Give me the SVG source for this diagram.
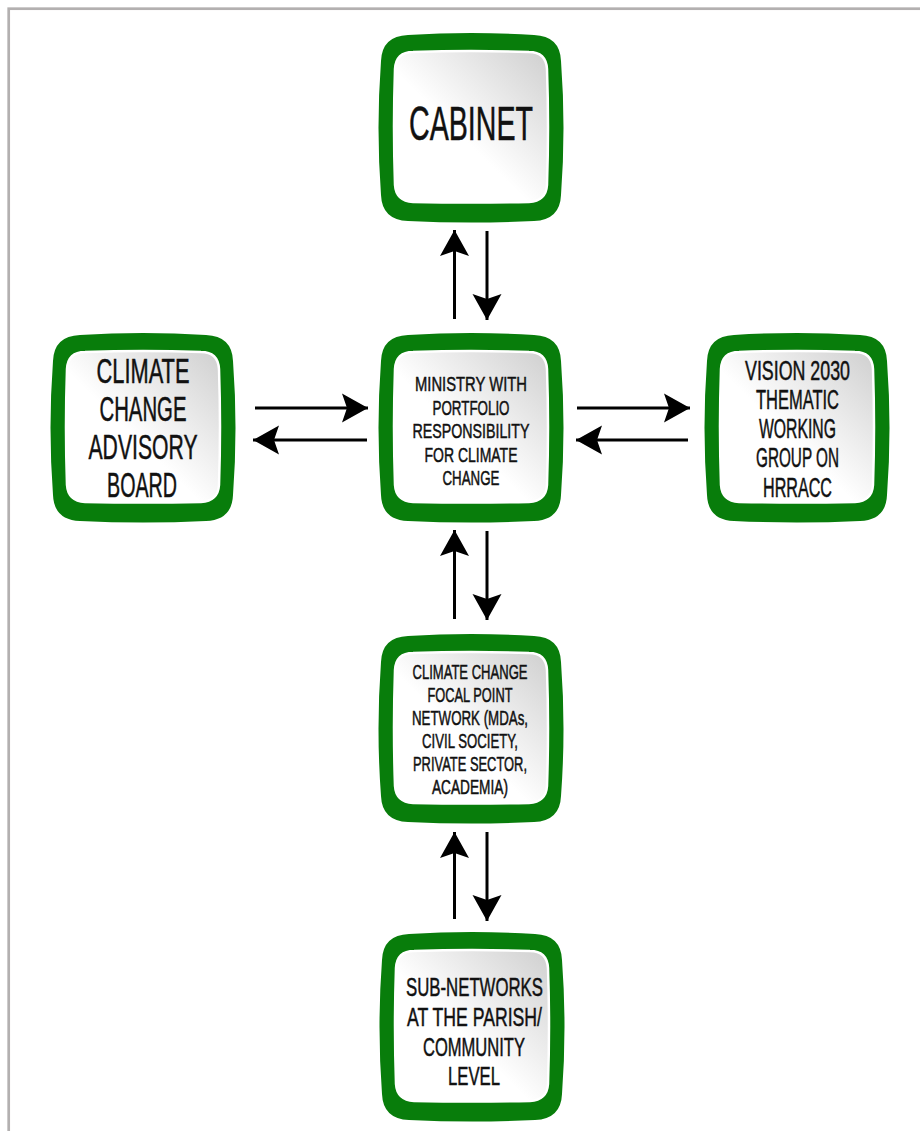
<svg xmlns="http://www.w3.org/2000/svg" xmlns:xlink="http://www.w3.org/1999/xlink" width="920" height="1131" viewBox="0 0 920 1131">
<style>
.t{font-family:"Liberation Sans Narrow","Liberation Sans",Arial,sans-serif;fill:#111;stroke:#111;stroke-width:0.5;text-anchor:middle;}
.c{stroke:#000;stroke-width:3;fill:none;marker-end:url(#ah);}
</style>
<defs>
<linearGradient id="g" x1="1" y1="0" x2="0.25" y2="0.75">
<stop offset="0" stop-color="#cfcfcf"/>
<stop offset="0.75" stop-color="#ffffff"/>
</linearGradient>
<path id="outer" d="M -63,-93 Q 0,-97 63,-93 Q 89,-92 90,-67 Q 95,0 90,67 Q 89,92 63,93 Q 0,96 -63,93 Q -89,92 -90,67 Q -95,0 -90,-67 Q -89,-92 -63,-93 Z" fill="#087d0b"/>
<path id="inner" d="M -58,-75 Q 0,-77 58,-75 Q 75,-75 76,-58 Q 78,0 76,58 Q 75,74 58,75 Q 0,76 -58,75 Q -75,74 -76,58 Q -78,0 -76,-58 Q -75,-75 -58,-75 Z" fill="url(#g)" stroke="#ffffff" stroke-width="2.5"/>
<marker id="ah" markerUnits="userSpaceOnUse" viewBox="-28 -16 30 32" markerWidth="30" markerHeight="32" refX="0" refY="0" orient="auto">
<path d="M0,0 L-26,-14.5 L-21,0 L-26,14.5 Z" fill="#000"/>
</marker>
</defs>
<rect x="8.7" y="8.7" width="1000" height="1200" fill="#fff" stroke="#b3b0b0" stroke-width="2.7"/>

<g id="connectors">
<line class="c" x1="454.5" y1="319" x2="454.5" y2="230"/>
<line class="c" x1="487" y1="231" x2="487" y2="320"/>
<line class="c" x1="255" y1="408" x2="368" y2="408"/>
<line class="c" x1="367" y1="440" x2="253" y2="440"/>
<line class="c" x1="577" y1="408" x2="690" y2="408"/>
<line class="c" x1="688" y1="440" x2="576" y2="440"/>
<line class="c" x1="454.5" y1="619" x2="454.5" y2="530"/>
<line class="c" x1="487" y1="531" x2="487" y2="620"/>
<line class="c" x1="454.5" y1="919" x2="454.5" y2="832"/>
<line class="c" x1="487" y1="832" x2="487" y2="921"/>
</g>

<g id="cabinet">
<use xlink:href="#outer" x="471" y="128"/>
<use xlink:href="#inner" x="471" y="127"/>
<text class="t" font-size="49" x="471" y="140" textLength="124" lengthAdjust="spacingAndGlyphs" stroke-width="0.9">CABINET</text>
</g>

<g id="ministry">
<use xlink:href="#outer" x="471" y="428"/>
<use xlink:href="#inner" x="471" y="427"/>
<text class="t" font-size="21" x="471" y="391" textLength="112" lengthAdjust="spacingAndGlyphs">MINISTRY WITH</text>
<text class="t" font-size="21" x="471" y="414.5" textLength="77" lengthAdjust="spacingAndGlyphs">PORTFOLIO</text>
<text class="t" font-size="21" x="471" y="438" textLength="117" lengthAdjust="spacingAndGlyphs">RESPONSIBILITY</text>
<text class="t" font-size="21" x="471" y="461.5" textLength="93" lengthAdjust="spacingAndGlyphs">FOR CLIMATE</text>
<text class="t" font-size="21" x="471" y="485" textLength="57" lengthAdjust="spacingAndGlyphs">CHANGE</text>
</g>

<g id="advisory-board">
<use xlink:href="#outer" x="143" y="428"/>
<use xlink:href="#inner" x="143" y="427"/>
<text class="t" font-size="35" x="143" y="383" textLength="93" lengthAdjust="spacingAndGlyphs" stroke-width="0.7">CLIMATE</text>
<text class="t" font-size="35" x="143" y="421" textLength="87" lengthAdjust="spacingAndGlyphs" stroke-width="0.7">CHANGE</text>
<text class="t" font-size="35" x="143" y="458.5" textLength="109" lengthAdjust="spacingAndGlyphs" stroke-width="0.7">ADVISORY</text>
<text class="t" font-size="35" x="142" y="497" textLength="70" lengthAdjust="spacingAndGlyphs" stroke-width="0.7">BOARD</text>
</g>

<g id="vision-2030">
<use xlink:href="#outer" x="797" y="428"/>
<use xlink:href="#inner" x="797" y="427"/>
<text class="t" font-size="27" x="797.5" y="380" textLength="105" lengthAdjust="spacingAndGlyphs">VISION 2030</text>
<text class="t" font-size="27" x="797.5" y="409" textLength="83" lengthAdjust="spacingAndGlyphs">THEMATIC</text>
<text class="t" font-size="27" x="797.5" y="438" textLength="77" lengthAdjust="spacingAndGlyphs">WORKING</text>
<text class="t" font-size="27" x="797.5" y="467" textLength="83" lengthAdjust="spacingAndGlyphs">GROUP ON</text>
<text class="t" font-size="27" x="797.5" y="497" textLength="69" lengthAdjust="spacingAndGlyphs">HRRACC</text>
</g>

<g id="focal-point-network">
<use xlink:href="#outer" x="471" y="729"/>
<use xlink:href="#inner" x="471" y="728"/>
<text class="t" font-size="20.5" x="470" y="679" textLength="115" lengthAdjust="spacingAndGlyphs">CLIMATE CHANGE</text>
<text class="t" font-size="20.5" x="470" y="702" textLength="85" lengthAdjust="spacingAndGlyphs">FOCAL POINT</text>
<text class="t" font-size="20.5" x="470" y="725" textLength="116" lengthAdjust="spacingAndGlyphs">NETWORK (MDAs,</text>
<text class="t" font-size="20.5" x="470" y="748" textLength="96" lengthAdjust="spacingAndGlyphs">CIVIL SOCIETY,</text>
<text class="t" font-size="20.5" x="470" y="771" textLength="114" lengthAdjust="spacingAndGlyphs">PRIVATE SECTOR,</text>
<text class="t" font-size="20.5" x="470" y="794" textLength="76" lengthAdjust="spacingAndGlyphs">ACADEMIA)</text>
</g>

<g id="sub-networks">
<use xlink:href="#outer" x="472" y="1027"/>
<use xlink:href="#inner" x="472" y="1026"/>
<text class="t" font-size="26.5" x="474.5" y="996" textLength="137" lengthAdjust="spacingAndGlyphs">SUB-NETWORKS</text>
<text class="t" font-size="26.5" x="474.5" y="1026" textLength="135" lengthAdjust="spacingAndGlyphs">AT THE PARISH/</text>
<text class="t" font-size="26.5" x="474" y="1055.5" textLength="102" lengthAdjust="spacingAndGlyphs">COMMUNITY</text>
<text class="t" font-size="26.5" x="474" y="1085" textLength="52" lengthAdjust="spacingAndGlyphs">LEVEL</text>
</g>
</svg>
